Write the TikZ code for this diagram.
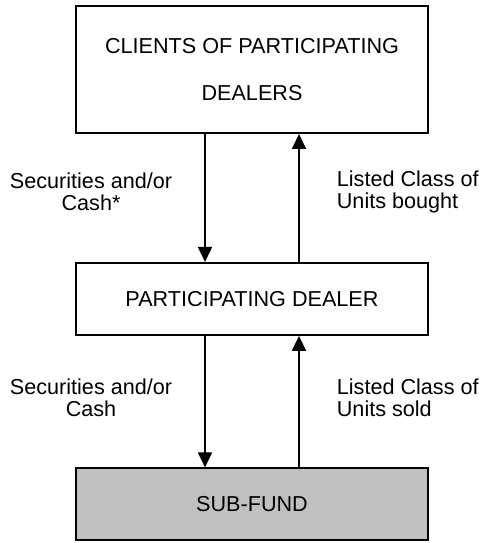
\documentclass[tikz,border=0pt]{standalone}
\usepackage{fontspec}
\setmainfont{Liberation Sans}
\usepackage{xcolor}
\usepackage{tikz}
\usetikzlibrary{arrows.meta, positioning}
\definecolor{fundgray}{RGB}{192,192,192}

\begin{document}
\begin{tikzpicture}[
  box/.style={draw, line width=1.1pt, minimum width=7.04cm, minimum height=1.44cm, align=center},
  bigbox/.style={box, minimum height=2.54cm},
  arrow/.style={-{Triangle[width=0.28cm, length=0.3cm]}, line width=1pt},
  lbl/.style={inner sep=0pt},
  every node/.style={font=\fontsize{12.3}{12.8}\selectfont}
]
\useasboundingbox (0,0) rectangle (9.58,-10.86);

% CLIENTS
\node[bigbox] (clients) at (5.04,-1.39) {CLIENTS OF PARTICIPATING\\[13.5pt]DEALERS};

% PARTICIPATING DEALER
\node[box, below=2.56cm of clients] (dealer) {PARTICIPATING DEALER};

% SUB-FUND
\node[box, fill=fundgray, below=2.63cm of dealer] (fund) {SUB-FUND};

% Connections clients <-> dealer
\draw[arrow] ([xshift=-0.94cm]clients.south) -- node[lbl, left=0.64cm, yshift=0.12cm, align=center] {Securities and/or\\Cash*} ([xshift=-0.94cm]dealer.north);
\draw[arrow] ([xshift=0.94cm]dealer.north) -- node[lbl, right=0.74cm, yshift=0.12cm, align=left] {Listed Class of\\Units bought} ([xshift=0.94cm]clients.south);

% Connections dealer <-> sub-fund
\draw[arrow] ([xshift=-0.94cm]dealer.south) -- node[lbl, left=0.64cm, yshift=0.08cm, align=center] {Securities and/or\\Cash} ([xshift=-0.94cm]fund.north);
\draw[arrow] ([xshift=0.94cm]fund.north) -- node[lbl, right=0.74cm, yshift=0.08cm, align=left] {Listed Class of\\Units sold} ([xshift=0.94cm]dealer.south);

\end{tikzpicture}
\end{document}
